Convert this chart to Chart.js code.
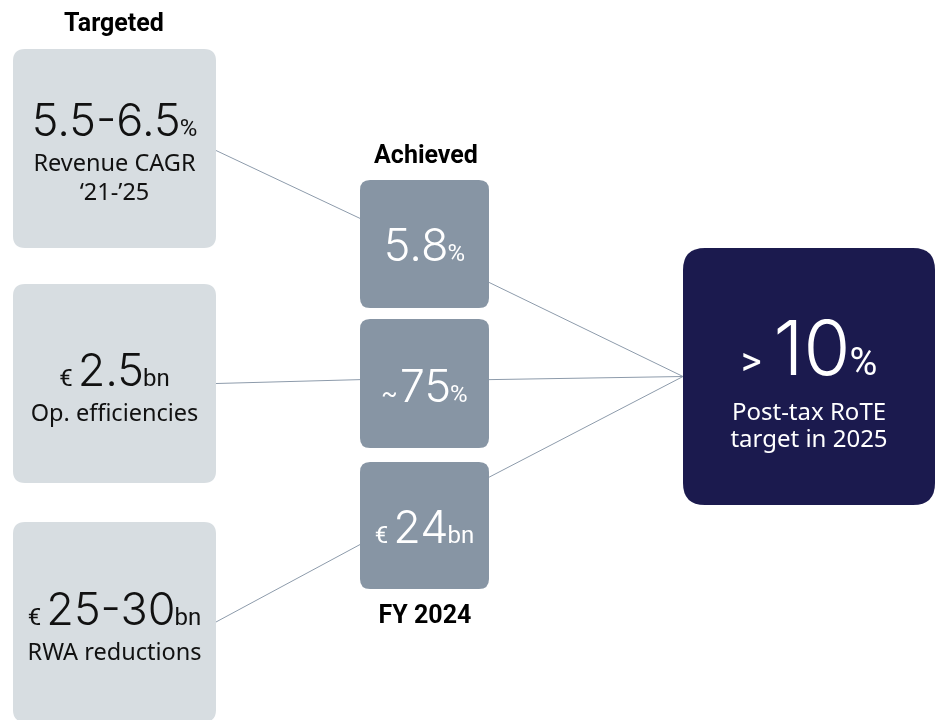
<!DOCTYPE html>
<html>
<head>
<meta charset="utf-8">
<title>Targeted vs achieved</title>
<script src="https://cdn.jsdelivr.net/npm/chart.js@4.4.1/dist/chart.umd.min.js"></script>
<style>
html, body { margin: 0; padding: 0; background: #ffffff; }
#wrap { width: 936px; height: 720px; }
</style>
</head>
<body>
<div id="wrap"><canvas id="myChart" width="936" height="720"></canvas></div>
<script>
// dane z obrazka
var columnTitles = ['Targeted', 'Achieved', 'FY 2024'];

var targetedPrefix = ['', '€', '€'];
var targetedValues = ['5.5-6.5', '2.5', '25-30'];
var targetedUnits = ['%', 'bn', 'bn'];
var targetedLabels = [['Revenue CAGR', '‘21-’25'], ['Op. efficiencies'], ['RWA reductions']];

var achievedPrefix = ['', '~', '€'];
var achievedValues = ['5.8', '75', '24'];
var achievedUnits = ['%', '%', 'bn'];

var goalPrefix = ['>'];
var goalValues = ['10'];
var goalUnits = ['%'];
var goalLabels = [['Post-tax RoTE', 'target in 2025']];

// uklad (w jednostkach osi 0..936 / 0..720)
var layout = {
    targeted: [
        { x: 13, y: 49, w: 203, h: 199, base: 136 },
        { x: 13, y: 284, w: 203, h: 199, base: 386 },
        { x: 13, y: 522, w: 203, h: 200, base: 625 }
    ],
    achieved: [
        { x: 360, y: 180, w: 129, h: 128, base: 261 },
        { x: 360, y: 319, w: 129, h: 129, base: 402 },
        { x: 360, y: 462, w: 129, h: 127, base: 543 }
    ],
    goal: [
        { x: 683, y: 248, w: 252, h: 257, base: 375 }
    ],
    titles: [{ x: 114, y: 31 }, { x: 426, y: 163 }, { x: 425, y: 623 }]
};

// polaczenia: [grupa, indeks, ulamek wysokosci] -> [grupa, indeks, ulamek]
var connectors = [
    ['targeted', 0, 0.51, 'achieved', 0, 0.30],
    ['targeted', 1, 0.50, 'achieved', 1, 0.47],
    ['targeted', 2, 0.50, 'achieved', 2, 0.65],
    ['achieved', 0, 0.80, 'goal', 0, 0.50],
    ['achieved', 1, 0.47, 'goal', 0, 0.50],
    ['achieved', 2, 0.12, 'goal', 0, 0.50]
];

var styles = {
    targeted: { fill: '#d7dde1', color: '#111111', radius: 12, big: 45, small: 24, prefix: 24, sub: 23.5, subGap: 35, lineGap: 29 },
    achieved: { fill: '#8795a4', color: '#ffffff', radius: 10, big: 45, small: 24, prefix: 24, sub: 23.5, subGap: 35, lineGap: 29 },
    goal: { fill: '#1b1a4e', color: '#ffffff', radius: 22, big: 76, small: 38, prefix: 40, sub: 24, subGap: 45, lineGap: 27 }
};

var content = {
    targeted: { prefix: targetedPrefix, values: targetedValues, units: targetedUnits, labels: targetedLabels },
    achieved: { prefix: achievedPrefix, values: achievedValues, units: achievedUnits, labels: [[], [], []] },
    goal: { prefix: goalPrefix, values: goalValues, units: goalUnits, labels: goalLabels }
};

var bigFont = "300 {s}px Inter, Roboto, 'Liberation Sans', sans-serif";
var smallFont = "400 {s}px Roboto, 'Liberation Sans', sans-serif";
var subFont = "400 {s}px 'Noto Sans', 'Open Sans', sans-serif";
var titleFont = "700 25px Roboto, 'Liberation Sans', sans-serif";

// odstep za prefiksem
var prefixGap = { '€': 5, '~': 2, '>': 12 };

function font(tpl, size) {
    return tpl.replace('{s}', size);
}

function roundRect(ctx, x, y, w, h, r) {
    ctx.beginPath();
    ctx.moveTo(x + r, y);
    ctx.lineTo(x + w - r, y);
    ctx.quadraticCurveTo(x + w, y, x + w, y + r);
    ctx.lineTo(x + w, y + h - r);
    ctx.quadraticCurveTo(x + w, y + h, x + w - r, y + h);
    ctx.lineTo(x + r, y + h);
    ctx.quadraticCurveTo(x, y + h, x, y + h - r);
    ctx.lineTo(x, y + r);
    ctx.quadraticCurveTo(x, y, x + r, y);
    ctx.closePath();
}

// przeliczenie prostokata przez skale wykresu
function boxPixels(chart, b) {
    var sx = chart.scales.x, sy = chart.scales.y;
    var x1 = sx.getPixelForValue(b.x), x2 = sx.getPixelForValue(b.x + b.w);
    var y1 = sy.getPixelForValue(b.y), y2 = sy.getPixelForValue(b.y + b.h);
    return { x: x1, y: y1, w: x2 - x1, h: y2 - y1, base: sy.getPixelForValue(b.base) };
}

function drawMainLine(ctx, cx, base, pre, val, unit, st) {
    ctx.font = font(smallFont, st.prefix);
    var wp = pre ? ctx.measureText(pre).width : 0;
    ctx.font = font(bigFont, st.big);
    var wv = ctx.measureText(val).width;
    ctx.font = font(smallFont, st.small);
    var wu = ctx.measureText(unit).width;
    var g1 = pre ? prefixGap[pre] : 0;
    var g2 = -1;
    var x = cx - (wp + g1 + wv + g2 + wu) / 2;

    ctx.textAlign = 'left';
    ctx.textBaseline = 'alphabetic';
    if (pre) {
        ctx.font = font(smallFont, st.prefix);
        ctx.fillText(pre, x, base);
        x += wp + g1;
    }
    ctx.font = font(bigFont, st.big);
    ctx.fillText(val, x, base);
    x += wv + g2;
    ctx.font = font(smallFont, st.small);
    ctx.fillText(unit, x, base);
}

var boxPlugin = {
    id: 'boxPlugin',
    beforeDatasetsDraw: function(chart) {
        var ctx = chart.ctx;
        ctx.save();
        Object.keys(layout).forEach(function(group) {
            if (group === 'titles') return;
            layout[group].forEach(function(b) {
                var p = boxPixels(chart, b);
                roundRect(ctx, p.x, p.y, p.w, p.h, styles[group].radius);
                ctx.fillStyle = styles[group].fill;
                ctx.fill();
            });
        });
        ctx.restore();
    },
    afterDatasetsDraw: function(chart) {
        var ctx = chart.ctx;
        ctx.save();
        Object.keys(content).forEach(function(group) {
            var st = styles[group];
            var c = content[group];
            layout[group].forEach(function(b, i) {
                var p = boxPixels(chart, b);
                var cx = p.x + p.w / 2;
                ctx.fillStyle = st.color;
                drawMainLine(ctx, cx, p.base, c.prefix[i], c.values[i], c.units[i], st);
                ctx.font = font(subFont, st.sub);
                ctx.textAlign = 'center';
                (c.labels[i] || []).forEach(function(line, k) {
                    ctx.fillText(line, cx, p.base + st.subGap + k * st.lineGap);
                });
            });
        });

        // naglowki kolumn
        ctx.fillStyle = '#000000';
        ctx.font = titleFont;
        ctx.textAlign = 'center';
        columnTitles.forEach(function(t, i) {
            var a = layout.titles[i];
            ctx.fillText(t, chart.scales.x.getPixelForValue(a.x), chart.scales.y.getPixelForValue(a.y));
        });
        ctx.restore();
    }
};

function buildConnectors() {
    return connectors.map(function(c) {
        var a = layout[c[0]][c[1]];
        var b = layout[c[3]][c[4]];
        return {
            type: 'line',
            data: [
                { x: a.x + a.w, y: a.y + a.h * c[2] },
                { x: b.x, y: b.y + b.h * c[5] }
            ],
            borderColor: '#8d9bab',
            borderWidth: 1,
            pointRadius: 0,
            fill: false,
            tension: 0
        };
    });
}

function generateChart() {
    var ctx = document.getElementById('myChart').getContext('2d');
    window.myChart = new Chart(ctx, {
        type: 'scatter',
        data: { datasets: buildConnectors() },
        options: {
            responsive: false,
            animation: false,
            events: [],
            layout: { padding: 0 },
            plugins: {
                legend: { display: false },
                tooltip: { enabled: false }
            },
            scales: {
                x: { type: 'linear', min: 0, max: 936, display: false },
                y: { type: 'linear', min: 0, max: 720, reverse: true, display: false }
            }
        },
        plugins: [boxPlugin]
    });
}

document.addEventListener('DOMContentLoaded', generateChart);
</script>
</body>
</html>
